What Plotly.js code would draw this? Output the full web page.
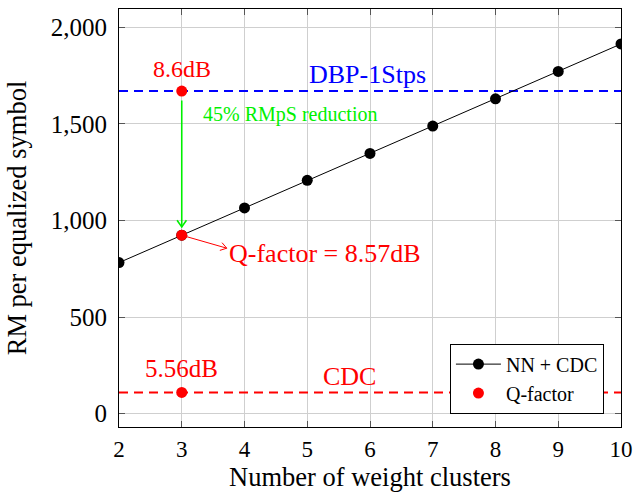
<!DOCTYPE html>
<html>
<head>
<meta charset="utf-8">
<script src="https://cdn.plot.ly/plotly-3.0.1.min.js"></script>
<style>html,body{margin:0;padding:0;background:#fff;}#chart{width:633px;height:493px;}</style>
</head>
<body>
<div id="chart"></div>
<script>
// ---- data ----
var clusters = [2, 3, 4, 5, 6, 7, 8, 9, 10];
var rmNNCDC = [782, 924, 1065, 1208, 1347, 1489, 1630, 1772, 1914];
var dbpLevel = 1670;   // DBP-1Stps
var cdcLevel = 110;    // CDC
var qX = [3, 3, 3];
var qY = [dbpLevel, 924, cdcLevel];
var qLabels = ['8.6dB', 'Q-factor = 8.57dB', '5.56dB'];
var seriesNames = ['NN + CDC', 'Q-factor'];
var refNames = ['DBP-1Stps', 'CDC'];
var xTicks = [2, 3, 4, 5, 6, 7, 8, 9, 10];
var yTicks = [0, 500, 1000, 1500, 2000];

var FONT = 'Liberation Serif';
var RED = '#ff0000', BLUE = '#0000ff', GREEN = '#00f000';

var traces = [
  {x: [clusters[0], clusters[clusters.length-1]], y: [dbpLevel, dbpLevel], mode: 'lines',
   line: {color: BLUE, width: 2, dash: '9px,6px'}, showlegend: false, hoverinfo: 'skip'},
  {x: [clusters[0], clusters[clusters.length-1]], y: [cdcLevel, cdcLevel], mode: 'lines',
   line: {color: RED, width: 2, dash: '9px,6px'}, showlegend: false, hoverinfo: 'skip'},
  {x: clusters, y: rmNNCDC, mode: 'lines+markers', name: seriesNames[0],
   line: {color: '#000', width: 1}, marker: {color: '#000', size: 11}},
  {x: qX, y: qY, mode: 'markers', name: seriesNames[1],
   marker: {color: RED, size: 11}}
];

var annotations = [
  {x: qX[0], y: qY[0], text: qLabels[0], showarrow: false, yshift: 22,
   font: {family: FONT, size: 24, color: RED}},
  {x: 5.96, y: dbpLevel, text: refNames[0], showarrow: false, yshift: 17,
   font: {family: FONT, size: 26, color: BLUE}},
  {x: qX[0], y: qY[0], text: '45% RMpS reduction', showarrow: false, xanchor: 'left',
   xshift: 19, yshift: -23, font: {family: FONT, size: 20, color: GREEN}},
  {x: qX[1], y: qY[1], text: qLabels[1], showarrow: false, xanchor: 'left',
   xshift: 45, yshift: -18, font: {family: FONT, size: 26, color: RED}},
  {x: qX[2], y: qY[2], text: qLabels[2], showarrow: false, yshift: 24,
   font: {family: FONT, size: 25, color: RED}},
  {x: 5.68, y: cdcLevel, text: refNames[1], showarrow: false, yshift: 16,
   font: {family: FONT, size: 26, color: RED}},
  // green arrow shaft
  {x: qX[1], y: qY[1], ax: qX[0], ay: qY[0], axref: 'x', ayref: 'y', xref: 'x', yref: 'y',
   text: '', showarrow: true, arrowhead: 0, standoff: 8, startstandoff: 8,
   arrowcolor: GREEN, arrowwidth: 1.6}
];

var shapes = [
  {type: 'path', xref: 'x', yref: 'y', xsizemode: 'pixel', ysizemode: 'pixel',
   xanchor: qX[1], yanchor: qY[1], path: 'M -4.7 15 L 0 8.3 L 4.7 15',
   line: {color: GREEN, width: 1.6}},
  {type: 'path', xref: 'x', yref: 'y', xsizemode: 'pixel', ysizemode: 'pixel',
   xanchor: qX[1], yanchor: qY[1], path: 'M 5 -1.5 L 45 -13 M 38.1 -15.2 L 45 -13 L 40.3 -7.5',
   line: {color: RED, width: 1}}
];

var layout = {
  width: 633, height: 493,
  margin: {l: 118.5, r: 12, t: 9, b: 66.3},
  paper_bgcolor: '#fff', plot_bgcolor: '#fff',
  font: {family: FONT, color: '#000'},
  xaxis: {
    range: [2, 10], tickvals: xTicks, ticktext: xTicks.map(String),
    showgrid: true, gridcolor: '#cfcfcf', gridwidth: 1, zeroline: false,
    showline: true, linecolor: '#000', linewidth: 1, mirror: 'ticks',
    ticks: 'inside', ticklen: 6, tickcolor: '#555', tickwidth: 1,
    tickfont: {family: FONT, size: 23, color: '#000'}, ticklabelstandoff: 1,
    title: {text: 'Number of weight clusters', font: {family: FONT, size: 26.5, color: '#000'}, standoff: 4}
  },
  yaxis: {
    range: [-69, 2095], tickvals: yTicks, ticktext: yTicks.map(function(v){return v.toLocaleString('en-US');}),
    showgrid: true, gridcolor: '#cfcfcf', gridwidth: 1, zeroline: false,
    showline: true, linecolor: '#000', linewidth: 1, mirror: 'ticks',
    ticks: 'inside', ticklen: 6, tickcolor: '#555', tickwidth: 1,
    tickfont: {family: FONT, size: 25, color: '#000'}, ticklabelstandoff: 6,
    title: {text: 'RM per equalized symbol', font: {family: FONT, size: 26.5, color: '#000'}, standoff: 16}
  },
  legend: {
    x: 0.966, xanchor: 'right', y: 0.032, yanchor: 'bottom',
    bordercolor: '#000', borderwidth: 1, bgcolor: '#fff', itemwidth: 45,
    font: {family: FONT, size: 20, color: '#000'}, tracegroupgap: 0
  },
  annotations: annotations,
  shapes: shapes,
  showlegend: true
};

Plotly.newPlot('chart', traces, layout, {displayModeBar: false, staticPlot: true});
</script>
</body>
</html>
